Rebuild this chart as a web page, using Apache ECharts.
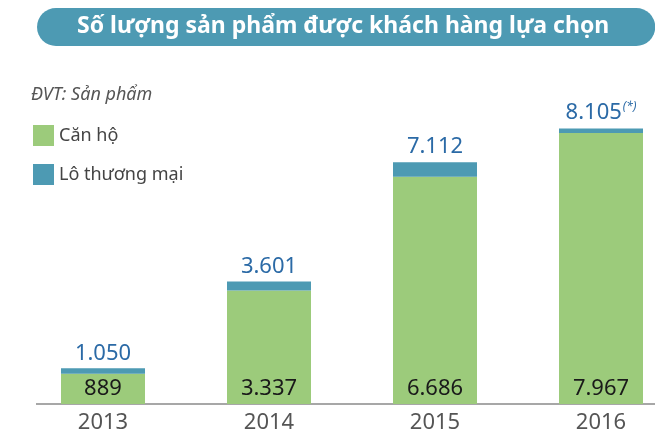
<!DOCTYPE html>
<html>
<head>
<meta charset="utf-8">
<script src="https://cdn.jsdelivr.net/npm/echarts@6/dist/echarts.min.js"></script>
<style>
  html, body { margin: 0; padding: 0; background: #fff; }
  #chart { width: 655px; height: 436px; }
</style>
</head>
<body>
<div id="chart"></div>
<script>
const years = ['2013', '2014', '2015', '2016']
const canHo = [889, 3337, 6686, 7967]
const loThuongMai = [161, 264, 426, 138]
const tongSo = [1050, 3601, 7112, 8105]
const ghiChu = ['', '', '', '(*)']

// 3337 -> "3.337"
function fmt(n) {
  return String(n).replace(/\B(?=(\d{3})+(?!\d))/g, '.')
}

let myChart = echarts.init(document.getElementById('chart'))
let font = 'Noto Sans'
let option = {
  animation: false,
  color: ['#9ccb7b', '#4d9ab3'],
  textStyle: { fontFamily: font },
  title: [
    {
      text: 'Số lượng sản phẩm được khách hàng lựa chọn',
      left: 37,
      top: 8,
      padding: [4, 46, 5, 40],
      backgroundColor: '#4d9ab3',
      borderRadius: 19,
      textStyle: {
        color: '#fff',
        fontSize: 23,
        fontWeight: 'bold',
        fontFamily: font,
        lineHeight: 29
      }
    },
    {
      text: 'ĐVT: Sản phẩm',
      left: 31,
      top: 86,
      padding: 0,
      textStyle: {
        color: '#555',
        fontSize: 18,
        fontStyle: 'italic',
        fontWeight: 'normal',
        fontFamily: font
      }
    }
  ],
  legend: {
    orient: 'vertical',
    left: 28,
    top: 120,
    itemWidth: 21,
    itemHeight: 21,
    itemGap: 18,
    icon: 'rect',
    textStyle: { color: '#444', fontSize: 18, fontFamily: font }
  },
  grid: {
    left: 20,
    width: 664,
    top: 64,
    bottom: 32,
    outerBoundsMode: 'none',
    containLabel: false
  },
  xAxis: {
    type: 'category',
    data: years,
    axisLine: { show: false },
    axisTick: { show: false },
    axisLabel: { color: '#555', fontSize: 22, margin: 8, fontFamily: font }
  },
  yAxis: {
    type: 'value',
    min: 0,
    max: 10000,
    show: false,
    splitLine: { show: false }
  },
  series: [
    {
      name: 'Căn hộ',
      type: 'bar',
      stack: 'sp',
      barWidth: 84,
      data: canHo,
      label: {
        show: true,
        position: 'insideBottom',
        distance: 4,
        color: '#1a1a1a',
        fontSize: 22,
        fontFamily: font,
        formatter: p => fmt(p.value)
      }
    },
    {
      name: 'Lô thương mại',
      type: 'bar',
      stack: 'sp',
      barWidth: 84,
      data: loThuongMai,
      label: {
        show: true,
        position: 'top',
        distance: 4,
        color: '#2b6aa6',
        fontSize: 22,
        fontFamily: font,
        formatter: p => fmt(tongSo[p.dataIndex]) + (ghiChu[p.dataIndex] ? '{sup|' + ghiChu[p.dataIndex] + '}' : ''),
        rich: {
          sup: {
            color: '#2b6aa6',
            fontSize: 12,
            fontStyle: 'italic',
            fontFamily: font,
            verticalAlign: 'top',
            padding: [0, 0, 12, 1]
          }
        }
      }
    }
  ],
  graphic: [
    {
      type: 'line',
      shape: { x1: 36, y1: 404, x2: 655, y2: 404 },
      style: { stroke: '#8a8a8a', lineWidth: 1.5 }
    }
  ]
}
myChart.setOption(option)
window.addEventListener('resize', function() {
  myChart.resize()
})
</script>
</body>
</html>
